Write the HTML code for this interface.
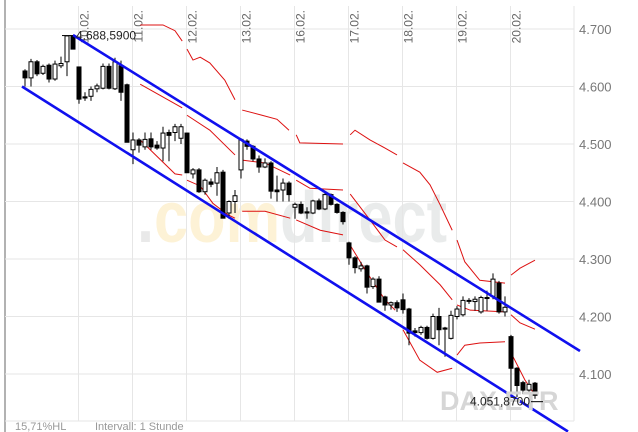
<!DOCTYPE html>
<html><head><meta charset="utf-8"><style>
html,body{margin:0;padding:0;background:#fff;}
svg{display:block;font-family:"Liberation Sans",sans-serif;}
</style></head><body>
<svg id="chart" width="638" height="432" viewBox="0 0 638 432" xmlns="http://www.w3.org/2000/svg">
<g id="wm">
<text x="137" y="242" font-size="72" font-weight="bold" textLength="310" lengthAdjust="spacingAndGlyphs"><tspan fill="#e9e9e9">.</tspan><tspan fill="#fdf2d6">com</tspan><tspan fill="#e9ebeb">direct</tspan></text>
</g>
<g id="grid"></g>
<g id="bands"></g>
<g id="candles"></g>
<g id="chan"></g>
<g id="labels"></g>
</svg>
<script>
const yTicks=[4700,4600,4500,4400,4300,4200,4100];
const yTickLabels=["4.700","4.600","4.500","4.400","4.300","4.200","4.100"];
const dayStarts=[9,18,27,36,45,54,63,72,81];
const dayLabels=["10.02.","11.02.","12.02.","13.02.","16.02.","17.02.","18.02.","19.02.","20.02."];
const opens=[4627,4615,4643,4623,4637,4613,4636,4643,4688,4634,4582,4583,4596,4597,4635,4596,4636,4603,4490,4507,4495,4509,4498,4493,4520,4520,4510,4519,4448,4455,4417,4434,4432,4451,4380,4400,4455,4505,4496,4474,4460,4467,4420,4420,4432,4390,4395,4382,4380,4401,4387,4412,4395,4381,4328,4302,4283,4288,4252,4265,4234,4220,4224,4229,4213,4175,4172,4181,4162,4200,4180,4162,4200,4203,4228,4226,4208,4233,4235,4258,4208,4165,4110,4085,4072,4084];
const highs=[4630,4648,4646,4638,4640,4645,4652,4688,4688,4634,4590,4600,4605,4640,4640,4650,4645,4605,4520,4510,4520,4520,4505,4530,4525,4535,4535,4520,4458,4458,4440,4440,4460,4455,4402,4420,4510,4508,4498,4480,4475,4470,4445,4440,4435,4398,4400,4390,4403,4405,4415,4414,4397,4383,4330,4305,4295,4290,4268,4270,4236,4226,4228,4240,4215,4180,4184,4184,4205,4215,4182,4210,4218,4235,4232,4235,4236,4245,4275,4262,4235,4168,4112,4088,4090,4086];
const lows=[4600,4600,4618,4620,4607,4610,4632,4618,4665,4570,4575,4575,4590,4595,4595,4594,4575,4503,4465,4485,4490,4490,4490,4470,4470,4505,4500,4450,4440,4415,4412,4425,4410,4371,4370,4380,4440,4490,4470,4450,4458,4405,4400,4400,4400,4370,4378,4370,4378,4385,4385,4393,4379,4360,4290,4275,4278,4240,4248,4225,4210,4212,4208,4205,4150,4165,4168,4160,4160,4150,4130,4160,4195,4200,4222,4210,4205,4210,4230,4205,4200,4065,4060,4065,4068,4057];
const closes=[4615,4643,4622,4635,4613,4639,4640,4688,4665,4578,4580,4595,4601,4635,4597,4643,4590,4503,4507,4498,4508,4495,4493,4519,4515,4530,4530,4450,4455,4417,4437,4430,4450,4371,4400,4410,4508,4496,4474,4460,4467,4418,4417,4432,4412,4395,4380,4380,4401,4387,4412,4395,4381,4365,4302,4285,4288,4251,4265,4225,4220,4224,4215,4212,4171,4172,4181,4162,4200,4177,4178,4202,4213,4228,4228,4230,4233,4232,4265,4208,4216,4110,4080,4072,4082,4063];
const upperChannel=[[8,4689.6],[92.5,4140]];
const lowerChannel=[[-0.5,4600],[90.5,4000]];
const bandUpper=[[[19.2,4707],[23,4707],[25,4697],[26.2,4679]],[[27,4665],[28,4646],[29.2,4651],[30.8,4641],[33.3,4611],[35,4577]],[[36.2,4559],[39.5,4550],[42,4543],[44,4524]],[[45.2,4516],[45.8,4502],[53,4500]],[[54.2,4516],[55,4524],[57.5,4507],[60,4493],[62,4481]],[[63,4467],[65.8,4451],[67.5,4429],[69.2,4394],[71.2,4350]],[[72,4333],[73.3,4295],[75.8,4263],[80,4258]],[[81,4272],[82.5,4284],[85,4298]]];
const bandMid=[[[19.2,4604],[26.2,4563]],[[27,4550],[30.8,4524],[35,4481]],[[36.2,4472],[40,4467],[44.2,4446]],[[45.2,4437],[47.5,4423],[53,4420]],[[54.2,4413],[57.5,4368],[60,4333],[62,4321]],[[63,4316],[65.8,4290],[69.2,4255],[71.2,4229]],[[72,4220],[74.2,4211],[80,4208]],[[81,4203],[82.5,4189],[85,4178]]];
const bandLower=[[[19.2,4507],[25,4448],[26.2,4446]],[[27,4437],[29.2,4427],[31.3,4397],[33.8,4377],[35,4371]],[[36.2,4383],[40,4383],[44.2,4371]],[[45.2,4368],[49.2,4350],[53,4342]],[[54.2,4324],[56.7,4281],[60,4229],[61.7,4211]],[[63,4177],[65.8,4124],[68.7,4103],[71.2,4110]],[[72,4133],[73.3,4150],[75.8,4154],[80,4156]],[[81,4137],[83.3,4090],[85,4063]]];
const maxLabel="4.688,5900", maxIdx=8, maxVal=4688.59;
const lastLabel="4.051,8700", lastIdx=85, lastVal=4051.87;

const NS="http://www.w3.org/2000/svg";
function X(i){return 25+6*i;}
function Y(p){return 29+(4700-p)*0.575;}
function mk(tag,attrs,parent){const e=document.createElementNS(NS,tag);for(const k in attrs)e.setAttribute(k,attrs[k]);parent.appendChild(e);return e;}
const grid=document.getElementById('grid');
mk('line',{x1:5,y1:0,x2:5,y2:432,stroke:'#666','stroke-width':1},grid);
yTicks.forEach((t,k)=>{
  const l=mk('line',{x1:5,x2:574,y1:Y(t),y2:Y(t),stroke:'#e6e6e6'},grid);
  
  
  const tx=mk('text',{x:579,y:Y(t)+5,'font-size':13,fill:'#777'},grid);
  tx.textContent=yTickLabels[k];
  
  
});
dayStarts.forEach((d,k)=>{
  const x=X(d)-0.5*0+(-0);
  const gx=X(d)-0.5;
  const l=mk('line',{x1:gx,x2:gx,y1:6,y2:421,stroke:'#e6e6e6'},grid);
  
  
  const tx=mk('text',{x:0,y:0,'font-size':12,fill:'#666','text-anchor':'end',transform:`translate(${gx+10},10) rotate(-90)`},grid);
  tx.textContent=dayLabels[k];
  
  
});
const rl=mk('line',{x1:574,x2:574,y1:6,y2:421,stroke:'#e6e6e6'},grid);

const bl=mk('line',{x1:5,x2:574,y1:421,y2:421,stroke:'#e6e6e6'},grid);


const bands=document.getElementById('bands');
[bandUpper,bandMid,bandLower].forEach((set,si)=>{
  set.forEach(seg=>{
    const p=mk('polyline',{points:seg.map(q=>X(q[0])+','+Y(q[1])).join(' '),fill:'none',stroke:'#dd1111','stroke-width':1},bands);
    
    
  });
});

const cg=document.getElementById('candles');
opens.forEach((o,i)=>{
  const c=closes[i],x=X(i);
  const w=mk('line',{x1:x,x2:x,y1:Y(highs[i]),y2:Y(lows[i]),stroke:'#000','stroke-width':1},cg);
  
  
  const top=Y(Math.max(o,c)),bot=Y(Math.min(o,c));
  const r=mk('rect',{x:x-2,y:top,width:4,height:Math.max(1,bot-top),fill:c>=o?'#fff':'#000',stroke:'#000','stroke-width':1},cg);
  
  
});

const ch=document.getElementById('chan');
[upperChannel,lowerChannel].forEach((ln,k)=>{
  const l=mk('line',{x1:X(ln[0][0]),y1:Y(ln[0][1]),x2:X(ln[1][0]),y2:Y(ln[1][1]),stroke:'#1010ee','stroke-width':2.6},ch);
  
  
});

const lb=document.getElementById('labels');
mk('line',{x1:X(maxIdx)-11,x2:X(maxIdx),y1:Y(maxVal),y2:Y(maxVal),stroke:'#000'},lb);
const t1=mk('text',{x:X(maxIdx)+3,y:Y(maxVal)+4,'font-size':12,fill:'#222'},lb);
t1.textContent=maxLabel;

const dx=mk('text',{x:440,y:410,'font-size':27,'font-weight':'bold',fill:'#d6d6d6'},lb);
dx.textContent="DAX.ETR";

mk('line',{x1:X(lastIdx)-4,x2:X(lastIdx)+8,y1:Y(lastVal),y2:Y(lastVal),stroke:'#000'},lb);
const t2=mk('text',{x:X(lastIdx)-5,y:Y(lastVal)+4,'font-size':12,fill:'#222','text-anchor':'end'},lb);
t2.textContent=lastLabel;

const f1=mk('text',{x:15,y:430,'font-size':11,fill:'#999'},lb);
f1.textContent="15,71%HL";

const f2=mk('text',{x:95,y:430,'font-size':11,fill:'#999'},lb);
f2.textContent="Intervall: 1 Stunde";

</script>
</body></html>
